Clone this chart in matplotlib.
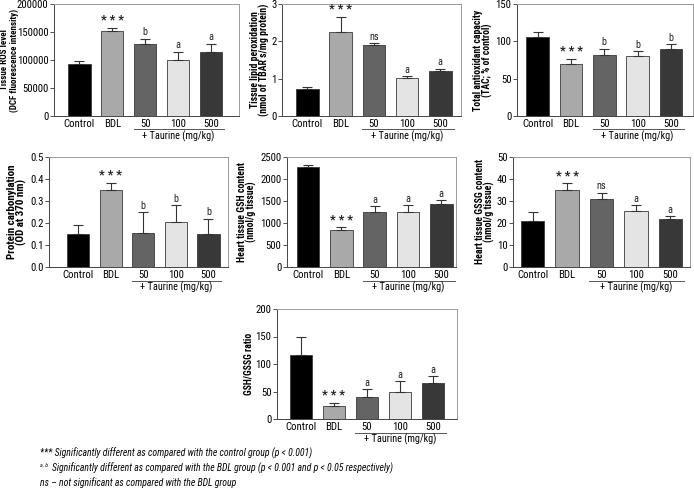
import matplotlib
matplotlib.use("Agg")
import matplotlib.pyplot as plt
from matplotlib import font_manager
from matplotlib.font_manager import FontProperties
import os

# ---------------- data ----------------
categories = ["Control", "BDL", "50", "100", "500"]
colors = ["#000000", "#a9a9a9", "#646464", "#e4e4e4", "#383838"]

ros_mean = [92000, 152000, 128000, 100000, 114000]
ros_err = [7000, 5000, 10000, 15000, 15000]
ros_sig = ["", "* * *", "b", "a", "a"]

lpo_mean = [0.72, 2.25, 1.90, 1.02, 1.20]
lpo_err = [0.05, 0.40, 0.05, 0.05, 0.07]
lpo_sig = ["", "* * *", "ns", "a", "a"]

tac_mean = [106, 70, 82, 80, 90]
tac_err = [6, 7, 8, 7, 6]
tac_sig = ["", "* * *", "b", "b", "b"]

pc_mean = [0.150, 0.350, 0.155, 0.203, 0.152]
pc_err = [0.040, 0.033, 0.093, 0.077, 0.068]
pc_sig = ["", "* * *", "b", "b", "b"]

gsh_mean = [2280, 840, 1240, 1260, 1440]
gsh_err = [40, 60, 140, 140, 80]
gsh_sig = ["", "* * *", "a", "a", "a"]

gssg_mean = [21.0, 35.0, 31.0, 25.5, 22.0]
gssg_err = [4.0, 3.0, 2.7, 2.7, 1.2]
gssg_sig = ["", "* * *", "ns", "a", "a"]

ratio_mean = [116, 24, 40, 49, 66]
ratio_err = [34, 5, 14, 20, 12]
ratio_sig = ["", "* * *", "a", "a", "a"]

footnotes = [
    "*** Significantly different as compared with the control group (p < 0.001)",
    "Significantly different as compared with the BDL group (p < 0.001 and p < 0.05 respectively)",
    "ns \u2013 not significant as compared with the BDL group",
]

# ---------------- fonts ----------------
entries = font_manager.fontManager.ttflist
by_base = {os.path.basename(f.fname).lower(): f.fname for f in entries}
sets = [
    ("NotoSans-ExtraCondensed.ttf", "NotoSans-ExtraCondensedBold.ttf", "NotoSans-ExtraCondensedItalic.ttf"),
    ("NotoSans-Condensed.ttf", "NotoSans-CondensedBold.ttf", "NotoSans-CondensedItalic.ttf"),
    ("RobotoCondensed-Regular.ttf", "RobotoCondensed-Bold.ttf", "RobotoCondensed-Italic.ttf"),
    ("DejaVuSansCondensed.ttf", "DejaVuSansCondensed-Bold.ttf", "DejaVuSansCondensed-Oblique.ttf"),
]
PATHS = None
for s in sets:
    if s[0].lower() in by_base:
        reg = by_base[s[0].lower()]
        PATHS = (reg, by_base.get(s[1].lower(), reg), by_base.get(s[2].lower(), reg))
        break

names = {f.name for f in entries}
FAM = 'DejaVu Sans'
STR = 'normal'
for cand in ['Roboto Condensed', 'Open Sans Condensed', 'DejaVu Sans Condensed']:
    if cand in names:
        FAM = cand
        break
else:
    STR = 'condensed'


def fp(kind, size):
    if PATHS is not None:
        idx = {"r": 0, "b": 1, "i": 2}[kind]
        return FontProperties(fname=PATHS[idx], size=size)
    return FontProperties(family=FAM, stretch=STR, size=size,
                          weight="bold" if kind == "b" else "normal",
                          style="italic" if kind == "i" else "normal")


W, H = 694, 488
fig = plt.figure(figsize=(W / 100, H / 100), dpi=100)
renderer = fig.canvas.get_renderer()


def width_px(s, prop):
    t = fig.text(0, 0, s, fontproperties=prop)
    w = t.get_window_extent(renderer).width
    t.remove()
    return w


def fit_size(s, kind, target):
    return 10.0 * target / width_px(s, fp(kind, 10.0))


TICK = min(fit_size("Control", "r", 31), 9.5)
SIGN = TICK * 0.95
STAR = fit_size("* * *", "b", 23)
TAUR = fit_size("+ Taurine (mg/kg)", "r", 72)
FOOT = fit_size(footnotes[2], "i", 196)


def make_ax(x0, y0, x1, y1):
    return fig.add_axes([x0 / W, 1 - y1 / H, (x1 - x0) / W, (y1 - y0) / H]), (x1 - x0), (y1 - y0)

panels = [
    ((54, 4, 239, 116), (-0.77, 4.85), ros_mean, ros_err, ros_sig, (0, 200000), 50000, "{:.0f}",
     "Tissue ROS level\n(DCF fluorescence intensity)", 102, 44.5),
    ((282, 4, 461, 116), (-0.76, 4.62), lpo_mean, lpo_err, lpo_sig, (0, 3), 1, "{:.0f}",
     "Tissue lipid peroxidation\n(nmol of TBAR s/mg protein)", 112, 22),
    ((517, 4, 693, 116), (-0.62, 4.66), tac_mean, tac_err, tac_sig, (0, 150), 50, "{:.0f}",
     "Total antioxidant capacity\n(TAC; % of control)", 100, 34),
    ((49, 157, 228, 267), (-0.89, 4.6), pc_mean, pc_err, pc_sig, (0, 0.5), 0.1, "{:.1f}",
     "Protein carbonylation\n(OD at 370 nm)", 95, 32),
    ((287, 157, 456, 267), (-0.63, 4.44), gsh_mean, gsh_err, gsh_sig, (0, 2500), 500, "{:.0f}",
     "Heart tissue GSH content\n(nmol/g tissue)", 100, 40),
    ((513, 157, 690, 267), (-0.57, 4.57), gssg_mean, gssg_err, gssg_sig, (0, 50), 10, "{:.0f}",
     "Heart tissue GSSG content\n(nmol/g tissue)", 105, 28),
    ((277, 309, 457, 419), (-0.72, 4.73), ratio_mean, ratio_err, ratio_sig, (0, 200), 50, "{:.0f}",
     "GSH/GSSG ratio", 62, 29),
]

for rect, xl, mean, err, sig, yl, step, fmt, ylab, lab_len, lab_dist in panels:
    ax, wpx, hpx = make_ax(*rect)
    x = list(range(len(categories)))
    ax.bar(x, mean, width=0.68, color=colors, edgecolor="#3a3a3a", linewidth=0.6, zorder=2)
    ax.errorbar(x, mean, yerr=[[0] * len(err), err], fmt="none", ecolor="#333333",
                elinewidth=0.8, capsize=3.5, capthick=0.8, zorder=3)
    ax.set_xlim(*xl)
    ax.set_ylim(*yl)
    ticks = [yl[0] + i * step for i in range(int(round((yl[1] - yl[0]) / step)) + 1)]
    ax.set_yticks(ticks)
    ax.set_yticklabels([fmt.format(t) for t in ticks])
    ax.set_xticks(x)
    ax.set_xticklabels(categories)
    ax.tick_params(axis="x", length=0, pad=2.5)
    ax.tick_params(axis="y", length=3, width=0.6, pad=1.0, color="#333333")
    for lab in ax.get_xticklabels() + ax.get_yticklabels():
        lab.set_fontproperties(fp("r", TICK))
    for s in ["left", "bottom"]:
        ax.spines[s].set_color("#444444")
        ax.spines[s].set_linewidth(0.7)
    for s in ["top", "right"]:
        ax.spines[s].set_color("#9a9a9a")
        ax.spines[s].set_linewidth(0.7)
    longest = max(ylab.split("\n"), key=len)
    lsize = fit_size(longest, "b", lab_len)
    ax.set_ylabel(ylab, fontproperties=fp("b", lsize), va="center", ha="center", linespacing=0.95)
    ax.yaxis.set_label_coords(-lab_dist / wpx, 0.5)
    for xi, m, e, s in zip(x, mean, err, sig):
        if not s:
            continue
        if s.startswith("*"):
            ax.annotate(s, (xi, m + e), xytext=(0, 0.5), textcoords="offset points",
                        ha="center", va="bottom", fontproperties=fp("b", STAR), color="#222222")
        else:
            ax.annotate(s, (xi, m + e), xytext=(0, 1), textcoords="offset points",
                        ha="center", va="bottom", fontproperties=fp("r", SIGN), color="#222222")
    ly = -13.5 / hpx
    ax.plot([1.65, 4.4], [ly, ly], transform=ax.get_xaxis_transform(), color="#555555",
            linewidth=0.7, clip_on=False)
    ax.text(3.0, ly - 1.0 / hpx, "+ Taurine (mg/kg)", transform=ax.get_xaxis_transform(),
            ha="center", va="top", fontproperties=fp("r", TAUR))

fig.text(40 / W, 1 - 453 / H, footnotes[0], fontproperties=fp("i", FOOT), va="center", ha="left")
fig.text(40 / W, 1 - 465 / H, "a, b", fontproperties=fp("i", FOOT * 0.6), va="center", ha="left")
fig.text(52 / W, 1 - 468 / H, footnotes[1], fontproperties=fp("i", FOOT), va="center", ha="left")
fig.text(40 / W, 1 - 483 / H, footnotes[2], fontproperties=fp("i", FOOT), va="center", ha="left")

fig.savefig("out.png", dpi=100)
